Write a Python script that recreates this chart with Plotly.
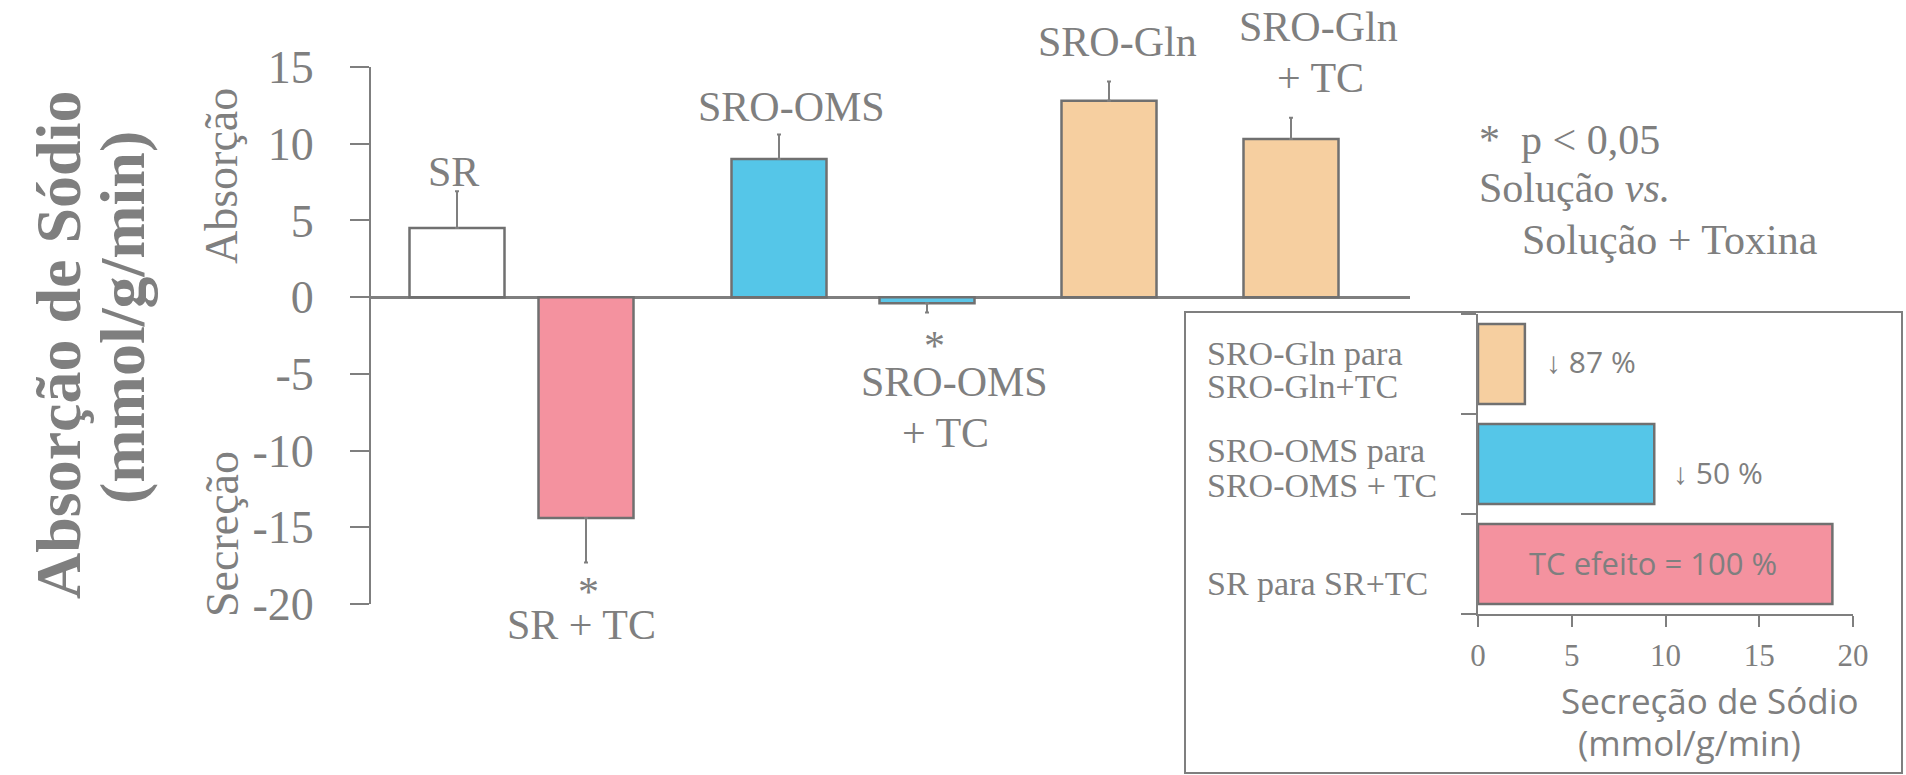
import plotly.graph_objects as go

# ---------------- data ----------------
main_labels = ["SR", "SR + TC", "SRO-OMS", "SRO-OMS + TC", "SRO-Gln", "SRO-Gln + TC"]
main_values = [4.5, -14.4, 9.0, -0.4, 12.8, 10.3]
main_errors = [2.4, 2.9, 1.6, 0.6, 1.25, 1.4]

inset_labels = ["SR para SR+TC", "SRO-OMS para SRO-OMS + TC", "SRO-Gln para SRO-Gln+TC"]
inset_values = [18.9, 9.4, 2.5]
inset_notes = ["TC efeito = 100 %", "\u2193 50 %", "\u2193 87 %"]

y_ticks = [-20, -15, -10, -5, 0, 5, 10, 15]
y_ticktext = ["-20", "-15", "-10", "-5", "0", "5", "10", "15"]
inset_ticks = [0, 5, 10, 15, 20]

# ---------------- layout helpers ----------------
W, H = 1906, 775
GREY = "#7f7f7f"
EDGE = "#707070"
SERIF = "Liberation Serif"
SANS = "Open Sans"
main_colors = ["#ffffff", "#f4929f", "#55c6e8", "#5bc6e8", "#f6cfa0", "#f6cfa0"]
inset_colors = ["#f4929f", "#55c6e8", "#f6cfa0"]
slot_pos = [86, 215, 408, 556, 738, 920]   # slot centres along the main x axis
inset_slots = [0, 1, 2]


def px(x):
    return x / W


def py(y):
    return 1 - y / H


fig = go.Figure()

fig.add_trace(go.Bar(
    x=slot_pos, y=main_values, width=95,
    marker=dict(color=main_colors, line=dict(color=EDGE, width=2.5)),
    error_y=dict(type="data", symmetric=False,
                 array=[e if v > 0 else 0 for v, e in zip(main_values, main_errors)],
                 arrayminus=[e if v < 0 else 0 for v, e in zip(main_values, main_errors)],
                 color=GREY, thickness=2, width=2),
    xaxis="x", yaxis="y", showlegend=False, hoverinfo="skip",
))

fig.add_trace(go.Bar(
    y=inset_slots, x=inset_values, orientation="h", width=0.8,
    marker=dict(color=inset_colors, line=dict(color=EDGE, width=2.5)),
    xaxis="x2", yaxis="y2", showlegend=False, hoverinfo="skip",
))

fig.update_layout(
    width=W, height=H,
    margin=dict(l=0, r=0, t=0, b=0, autoexpand=False),
    paper_bgcolor="white", plot_bgcolor="rgba(0,0,0,0)",
    xaxis=dict(domain=[px(371), px(1410)], range=[0, 1039], visible=False,
               anchor="y", automargin=False),
    yaxis=dict(domain=[py(604), py(67)], range=[-20, 15], anchor="x",
               automargin=False,
               showline=True, linecolor=GREY, linewidth=2,
               ticks="outside", ticklen=19, tickwidth=2, tickcolor=GREY,
               tickvals=y_ticks, ticktext=y_ticktext,
               tickfont=dict(family=SERIF, size=46, color=GREY),
               ticklabelstandoff=27,
               zeroline=True, zerolinecolor=GREY, zerolinewidth=2.5,
               showgrid=False),
    xaxis2=dict(domain=[px(1478), px(1853)], range=[0, 20], anchor="y2",
                automargin=False,
                showline=True, linecolor=GREY, linewidth=2,
                ticks="outside", ticklen=11, tickwidth=2, tickcolor=GREY,
                tickvals=inset_ticks,
                tickfont=dict(family=SERIF, size=31, color=GREY),
                ticklabelstandoff=2,
                showgrid=False, zeroline=False),
    yaxis2=dict(domain=[py(614), py(314)], range=[-0.5, 2.5], anchor="x2",
                automargin=False,
                showline=True, linecolor=GREY, linewidth=2,
                ticks="outside", ticklen=15, tickwidth=2, tickcolor=GREY,
                tickvals=[-0.5, 0.5, 1.5, 2.5], showticklabels=False,
                showgrid=False, zeroline=False),
    shapes=[dict(type="rect", xref="paper", yref="paper",
                 x0=px(1185), x1=px(1902), y0=py(773), y1=py(312),
                 line=dict(color=GREY, width=2), layer="below")],
)

ann = []


def add(text, x, y, size=42, family=SERIF, xanchor="center", angle=0, color=GREY):
    ann.append(dict(text=text, x=px(x), y=py(y), xref="paper", yref="paper",
                    showarrow=False, xanchor=xanchor, yanchor="middle",
                    textangle=angle, font=dict(family=family, size=size, color=color)))


# y titles
add("<b>Absorção de Sódio</b>", 58, 345, size=64, angle=-90)
add("<b>(mmol/g/min)</b>", 122, 317, size=64, angle=-90)
add("Absorção", 222, 176, size=46, angle=-90)
add("Secreção", 222, 534, size=46, angle=-90)

# main bar labels
add("SR", 453, 172)
add("SRO-OMS", 791, 107)
add("SRO-Gln", 1117, 42)
add("SRO-Gln", 1318, 27)
add("+ TC", 1320, 78)
add("*", 588, 592)
add("SR + TC", 581, 625)
add("*", 934, 346)
add("SRO-OMS", 954, 382)
add("+ TC", 945, 433)

# significance note
add("*  p &lt; 0,05", 1477, 140, xanchor="left")
add("Solução <i>vs.</i>", 1477, 188, xanchor="left")
add("Solução + Toxina", 1520, 240, xanchor="left")

# inset category labels
add("SRO-Gln para", 1205, 353, size=34, xanchor="left")
add("SRO-Gln+TC", 1205, 387, size=34, xanchor="left")
add("SRO-OMS para", 1205, 450, size=34, xanchor="left")
add("SRO-OMS + TC", 1205, 485, size=34, xanchor="left")
add("SR para SR+TC", 1205, 583, size=34, xanchor="left")

# inset notes
add(inset_notes[2], 1544, 361, size=30, family=SANS, xanchor="left")
add(inset_notes[1], 1671, 472, size=30, family=SANS, xanchor="left")
add(inset_notes[0], 1653, 563, size=31, family=SANS)

# inset title
add("Secreção de Sódio", 1710, 700, size=35, family=SANS)
add("(mmol/g/min)", 1689, 742, size=35, family=SANS)

fig.update_layout(annotations=ann)

fig.write_html("out.html")
